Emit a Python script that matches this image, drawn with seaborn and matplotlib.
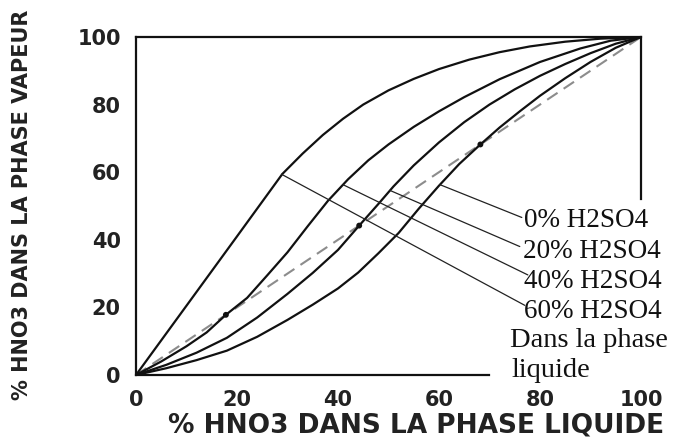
import matplotlib
matplotlib.use("Agg")
import matplotlib.pyplot as plt
import pandas as pd
import seaborn as sns

# ---------------- data ----------------
x_ticks = [0, 20, 40, 60, 80, 100]
y_ticks = [0, 20, 40, 60, 80, 100]

series_names = ["0% H2SO4", "20% H2SO4", "40% H2SO4", "60% H2SO4"]

x_h0 = [0, 6, 12, 18, 24, 30, 35, 40, 44, 48, 52, 56, 60, 64, 68.2, 72, 76, 80, 85, 90, 95, 100]
y_h0 = [0, 2.0, 4.4, 7.2, 11.3, 16.3, 20.8, 25.6, 30.3, 36.0, 42.0, 49.2, 56.0, 62.4, 68.2, 73.2, 78.0, 82.6, 87.8, 92.6, 96.8, 100]

x_h20 = [0, 6, 12, 18, 24, 30, 35, 40, 44.2, 48, 51, 55, 60, 65, 70, 75, 80, 85, 90, 95, 100]
y_h20 = [0, 3.0, 6.6, 11.0, 17.0, 24.0, 30.2, 37.0, 44.2, 50.6, 55.8, 62.0, 68.8, 74.8, 80.0, 84.5, 88.5, 92.0, 95.2, 98.0, 100]

x_h40 = [0, 5, 10, 14, 17.8, 22, 26, 30, 34, 38, 42, 46, 50, 55, 60, 65, 72, 80, 88, 94, 100]
y_h40 = [0, 4.0, 8.5, 12.6, 17.8, 22.8, 29.5, 36.3, 44.0, 51.5, 57.9, 63.5, 68.2, 73.4, 78.0, 82.2, 87.5, 92.6, 96.6, 98.9, 100]

x_h60 = [0, 10, 20, 29, 33, 37, 41, 45, 50, 55, 60, 66, 72, 78, 85, 92, 100]
y_h60 = [0, 20.5, 41, 59.5, 65.5, 71, 75.8, 80, 84.2, 87.6, 90.5, 93.3, 95.5, 97.2, 98.6, 99.5, 100]

diag_x = [0, 100]
diag_y = [0, 100]

# azeotrope points (where a curve crosses the diagonal)
azeo_x = [17.8, 44.2, 68.2]
azeo_y = [17.8, 44.2, 68.2]

# where each leader line touches its curve
leader_x = [60.2, 50.3, 41.0, 28.8]
leader_y = [56.3, 54.6, 56.3, 59.4]

note_line1 = "Dans la phase"
note_line2 = "liquide"
x_title = "% HNO3 DANS LA PHASE LIQUIDE"
y_title = "% HNO3 DANS LA PHASE VAPEUR"

# ---------------- build tables ----------------
frames = []
for name, xs, ys in zip(series_names, [x_h0, x_h20, x_h40, x_h60], [y_h0, y_h20, y_h40, y_h60]):
    frames.append(pd.DataFrame({"x": xs, "y": ys, "serie": name}))
curves = pd.concat(frames, ignore_index=True)
diag = pd.DataFrame({"x": diag_x, "y": diag_y})
azeo = pd.DataFrame({"x": azeo_x, "y": azeo_y})

# ---------------- figure ----------------
sns.set_theme(style="white")
plt.rcParams["font.family"] = ["DejaVu Sans"]

fig = plt.figure(figsize=(6.91, 4.37), dpi=100)
ax = fig.add_axes([0.1968, 0.1419, 0.7308, 0.7735])

sns.lineplot(data=diag, x="x", y="y", ax=ax, color="#8c8c8c", lw=1.5,
             estimator=None)
ax.lines[-1].set_dashes((6, 3.5))

sns.lineplot(data=curves, x="x", y="y", hue="serie", ax=ax,
             palette={n: "#111111" for n in series_names},
             lw=1.6, estimator=None, sort=False, legend=False)

sns.scatterplot(data=azeo, x="x", y="y", ax=ax, color="#111111", s=18,
                edgecolor="none", zorder=5)

# leader lines and labels
leader_end = [(76.4, 46.6), (76.0, 38.0), (77.6, 29.6), (77.0, 20.6)]
label_pos = [(76.8, 43.9), (76.6, 34.6), (76.8, 25.7), (76.8, 16.9)]
for i, name in enumerate(series_names):
    ex, ey = leader_end[i]
    ax.plot([leader_x[i], ex], [leader_y[i], ey], color="#222222", lw=0.9,
            clip_on=False, zorder=4)
    tx, ty = label_pos[i]
    ax.text(tx, ty, name, family="Liberation Serif", fontsize=19.5,
            ha="left", va="baseline", color="#111111", clip_on=False)

ax.text(74.1, 8.4, note_line1, family="Liberation Serif", fontsize=20.5,
        ha="left", va="baseline", color="#111111", clip_on=False)
ax.text(74.4, -0.5, note_line2, family="Liberation Serif", fontsize=20.5,
        ha="left", va="baseline", color="#111111", clip_on=False)

# axes frame
ax.set_xlim(0, 100)
ax.set_ylim(0, 100)
for side in ["left", "right", "top", "bottom"]:
    ax.spines[side].set_color("#111111")
    ax.spines[side].set_linewidth(1.6)
ax.spines["right"].set_bounds(52, 100)
ax.spines["bottom"].set_bounds(0, 70)

ax.set_xticks(x_ticks)
ax.set_yticks(y_ticks)
ax.set_xticklabels([str(v) for v in x_ticks])
ax.set_yticklabels([str(v) for v in y_ticks])
ax.tick_params(axis="x", length=0, pad=11, labelsize=15, labelcolor="#222222")
ax.tick_params(axis="y", length=0, pad=11, labelsize=15, labelcolor="#222222")
for lab in ax.get_xticklabels() + ax.get_yticklabels():
    lab.set_fontweight("bold")

ax.set_xlabel(x_title, fontsize=19, fontweight="bold", color="#222222")
ax.set_ylabel(y_title, fontsize=15, fontweight="bold", color="#222222")
ax.xaxis.set_label_coords(0.555, -0.148)
ax.xaxis.label.set_va("center")
ax.yaxis.set_label_coords(-0.226, 0.503)
ax.yaxis.label.set_va("center")

fig.savefig("out.png", dpi=100, facecolor="white")
